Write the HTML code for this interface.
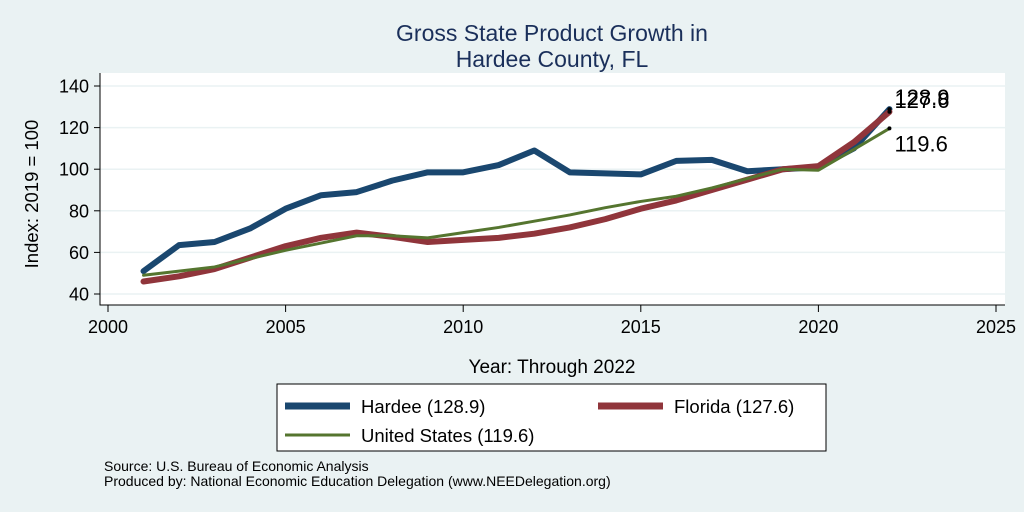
<!DOCTYPE html>
<html><head><meta charset="utf-8"><style>
body{margin:0;background:#eaf2f3;font-family:"Liberation Sans",sans-serif}
svg{display:block}
</style></head><body>
<svg width="1024" height="512">
<rect x="0" y="0" width="1024" height="512" fill="#eaf2f3"/>
<text x="552" y="41" font-size="23" fill="#1a2f5a" text-anchor="middle">Gross State Product Growth in</text>
<text x="552" y="67" font-size="23" fill="#1a2f5a" text-anchor="middle">Hardee County, FL</text>
<rect x="100" y="73" width="905" height="232" fill="#fff"/>
<g id="grid"></g><g id="axes"></g><g id="series"></g><g id="labels"></g>
<text x="552" y="373" font-size="19" text-anchor="middle">Year: Through 2022</text>
<text transform="translate(38,194) rotate(-90)" font-size="18.5" text-anchor="middle">Index: 2019 = 100</text>
<g>
<rect x="277" y="384" width="549" height="67" fill="#fff" stroke="#000" stroke-width="1"/>
<line x1="285" y1="406" x2="350" y2="406" stroke="#1a476f" stroke-width="7"/>
<text x="361" y="413" font-size="18.5">Hardee  (128.9)</text>
<line x1="598" y1="406" x2="663" y2="406" stroke="#90353b" stroke-width="7"/>
<text x="674" y="413" font-size="18.5">Florida (127.6)</text>
<line x1="285" y1="435" x2="350" y2="435" stroke="#55752f" stroke-width="3"/>
<text x="361" y="442" font-size="18.5">United States (119.6)</text>
</g>
<text x="104" y="471" font-size="14">Source: U.S. Bureau of Economic Analysis</text>
<text x="104" y="486" font-size="14">Produced by: National Economic Education Delegation (www.NEEDelegation.org)</text>
</svg>
<script>
const years=[2001,2002,2003,2004,2005,2006,2007,2008,2009,2010,2011,2012,2013,2014,2015,2016,2017,2018,2019,2020,2021,2022];
const hardee=[51,63.5,65,71.5,81,87.5,89,94.5,98.5,98.5,102,109,98.5,98,97.5,104,104.5,99,100,101,110,128.9];
const florida=[46,48.5,52,57.5,63,67,69.5,67.5,65,66,67,69,72,76,81,85,90,95,100,101.5,113,127.6];
const us=[49,51,53,57,61,64.5,68,68,67,69.5,72,75,78,81.5,84.5,87,91,95.5,100,99.5,109.5,119.6];
const xTicks=[2000,2005,2010,2015,2020,2025];
const yTicks=[40,60,80,100,120,140];
const NS="http://www.w3.org/2000/svg";
const X=v=>108+(v-2000)*(996-108)/25;
const Y=v=>294-(v-40)*(294-86)/100;
function mk(t,a,p){const e=document.createElementNS(NS,t);for(const k in a)e.setAttribute(k,a[k]);document.getElementById(p).appendChild(e);return e;}
yTicks.forEach(v=>{
 const g=mk('line',{x1:100,x2:1005,y1:Y(v),y2:Y(v),stroke:'#eaf2f3','stroke-width':1.5},'grid');
 
 
 const t=mk('line',{x1:94,x2:100,y1:Y(v),y2:Y(v),stroke:'#000'},'axes');
 
 
 const l=mk('text',{x:89,y:Y(v)+6.5,'font-size':18,'text-anchor':'end'},'axes');l.textContent=v;
 
 
});
xTicks.forEach(v=>{
 const t=mk('line',{x1:X(v),x2:X(v),y1:305,y2:312,stroke:'#000'},'axes');
 
 
 const l=mk('text',{x:X(v),y:333,'font-size':18,'text-anchor':'middle'},'axes');l.textContent=v;
 
 
});
const ax=mk('path',{d:'M100 73 V305 H1005',fill:'none',stroke:'#000','stroke-width':1},'axes');


function line(vals,color,w,name){
 const p=mk('polyline',{points:vals.map((v,i)=>X(years[i])+','+Y(v)).join(' '),fill:'none',stroke:color,'stroke-width':w,'stroke-linejoin':'round','stroke-linecap':'round'},'series');
 
 
}
line(hardee,'#1a476f',6,'line-hardee');
line(florida,'#90353b',6,'line-florida');
line(us,'#55752f',3,'line-us');
[[hardee,'label-hardee',-4],[florida,'label-florida',-4],[us,'label-us',23]].forEach(([s,n,dy])=>{
 const v=s[s.length-1],x=X(years[years.length-1]);
 const d=mk('circle',{cx:x,cy:Y(v),r:2,fill:'#000'},'labels');
 
 
 const t=mk('text',{x:x+5,y:Y(v)+dy,'font-size':22},'labels');
 t.textContent=v.toFixed(1);
 
 
});
</script>
</body></html>
